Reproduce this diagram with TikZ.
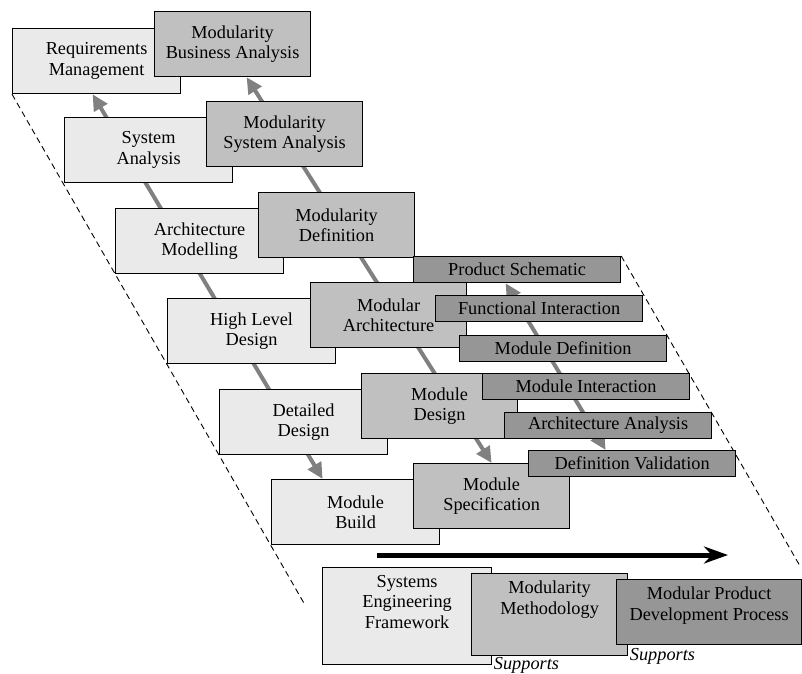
\documentclass[tikz,border=0pt]{standalone}
\usepackage{fontspec}
\setmainfont{Liberation Serif}
\usetikzlibrary{positioning}
\usetikzlibrary{arrows.meta}
\usetikzlibrary{backgrounds}
\definecolor{lightgrey}{RGB}{234,234,234}
\definecolor{midgrey}{RGB}{192,192,192}
\definecolor{darkgrey}{RGB}{150,150,150}
\definecolor{arrowgrey}{RGB}{128,128,128}
\newcommand{\boxfont}{\fontsize{18.3pt}{20.5pt}\selectfont}

\begin{document}
\begin{tikzpicture}[x=1pt,y=-1pt,
	every node/.style={font=\boxfont,align=center},
	light/.style={draw,line width=1.2pt,fill=lightgrey,anchor=north west,inner sep=0pt,minimum width=168pt,minimum height=65pt},
	medium/.style={draw,line width=1.2pt,fill=midgrey,anchor=north west,inner sep=0pt,minimum width=156pt,minimum height=65pt},
	dark/.style={draw,line width=1.2pt,fill=darkgrey,anchor=north west,inner sep=0pt,minimum width=207pt,minimum height=26pt},
	greyarrow/.style={{Triangle[length=16pt,width=15pt]}-{Triangle[length=16pt,width=15pt]},line width=4pt,draw=arrowgrey},
	dashline/.style={dash pattern=on 6pt off 4pt,line width=0.9pt}]
		\useasboundingbox (0,0) rectangle (802,673);
		%% systems engineering steps
		\node (rm)  [light] at (12,28)  {Requirements\\Management};
		\node (sa)  [light] at (64,117) {System\\Analysis};
		\node (am)  [light] at (115,208) {Architecture\\Modelling};
		\node (hld) [light] at (167,298) {High Level\\Design};
		\node (dd)  [light] at (219,389) {Detailed\\Design};
		\node (mb)  [light] at (271,479) {Module\\Build};
		%% modularity steps
		\node (mba) [medium] at (154,11)  {Modularity\\Business Analysis};
		\node (msa) [medium] at (206,101) {Modularity\\System Analysis};
		\node (mdf) [medium] at (258,192) {Modularity\\Definition};
		\node (mar) [medium] at (310,282) {Modular\\Architecture};
		\node (mds) [medium] at (361,373) {Module\\Design};
		\node (msp) [medium] at (413,463) {Module\\Specification};
		%% product process steps
		\node (ps)  [dark] at (413,256) {Product Schematic};
		\node (fi)  [dark] at (435,295) {Functional Interaction};
		\node (mdn) [dark] at (459,335) {Module Definition};
		\node (mi)  [dark] at (482,373) {Module Interaction};
		\node (aa)  [dark] at (504,412) {Architecture Analysis};
		\node (dv)  [dark] at (528,450) {Definition Validation};

		\coordinate (flowstart) at (377,555);
		\coordinate (flowend) at (728,555);
		\draw[-{Stealth[length=24pt,width=17pt]},line width=5pt] (flowstart) -- (flowend);

		%% legend
		\node (sef) [light,minimum width=169pt,minimum height=97pt] at (322,567) {};
		\node (seft) [below=8pt of sef.north,inner sep=0pt] {Systems\\Engineering\\Framework};
		\node (mm) [medium,minimum height=82pt] at (471,573) {};
		\node (mmt) [below=8pt of mm.north,inner sep=0pt] {Modularity\\Methodology};
		\node (mpdp) [dark,minimum width=185pt,minimum height=65pt] at (616,579) {};
		\node (mpdpt) [below=8pt of mpdp.north,inner sep=0pt] {Modular Product\\Development Process};
		\node (sup1) [right=0pt of sef.south east,inner sep=1.5pt,font=\boxfont\itshape] {Supports};
		\node (sup2) [right=0pt of mm.south east,inner sep=1.5pt,font=\boxfont\itshape] {Supports};

		\begin{pgfonlayer}{background}
			\coordinate (leftend) at (305,605);
			\coordinate (rightend) at (800,566);
			\draw[dashline] (rm.south west) -- (leftend);
			\draw[dashline] (ps.north east) -- (rightend);
			\draw[greyarrow] ([xshift=-4pt]rm.south) -- ([xshift=-33pt]mb.north);
			\draw[greyarrow] ([xshift=14pt]mba.south) -- (msp.north);
			\draw[greyarrow] ([xshift=-11.5pt]ps.south) -- ([xshift=-26.5pt]dv.north);
		\end{pgfonlayer}
\end{tikzpicture}
\end{document}
